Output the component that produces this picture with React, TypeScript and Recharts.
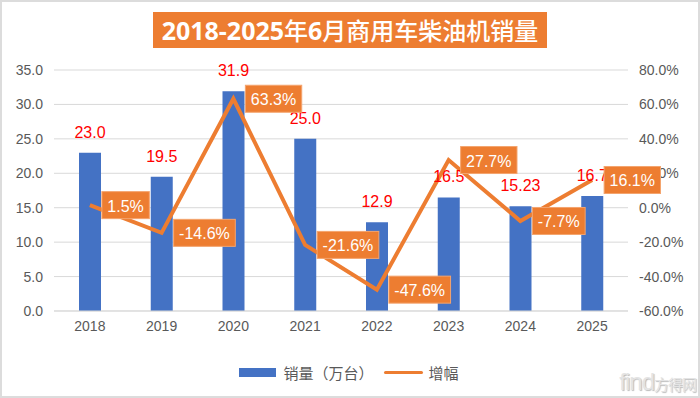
import React from 'react';
import { ComposedChart, Bar, Line, XAxis, YAxis, CartesianGrid, Legend, LabelList } from 'recharts';

const years = ['2018', '2019', '2020', '2021', '2022', '2023', '2024', '2025'];
const sales = [23.0, 19.5, 31.9, 25.0, 12.9, 16.5, 15.23, 16.7];
const salesLabels = ['23.0', '19.5', '31.9', '25.0', '12.9', '16.5', '15.23', '16.7'];
const growth = [1.5, -14.6, 63.3, -21.6, -47.6, 27.7, -7.7, 16.1];
const leftTicks = [0, 5, 10, 15, 20, 25, 30, 35];
const rightTicks = [-60, -40, -20, 0, 20, 40, 60, 80];

const data = years.map((year, i) => ({
  year,
  sales: sales[i],
  salesLabel: salesLabels[i],
  growth: growth[i],
}));

const ORANGE = '#ED7D31';
const BLUE = '#4472C4';
const GREY_TEXT = '#595959';

// rough width of a label in Liberation Sans
const textWidth = (s: string, size: number) => {
  let w = 0;
  for (const ch of s) {
    if (ch === '.') w += 0.278;
    else if (ch === '%') w += 0.889;
    else if (ch === '-') w += 0.333;
    else w += 0.556;
  }
  return w * size;
};

const SalesLabel = (props: any) => {
  const { x, y, width, value } = props;
  return (
    <text x={x + width / 2} y={y - 15} textAnchor="middle" fill="#FF0000" fontSize={16} fontFamily="Liberation Sans">
      {value}
    </text>
  );
};

const GrowthLabel = (props: any) => {
  const { x, y, value } = props;
  const txt = `${Number(value).toFixed(1)}%`;
  const w = textWidth(txt, 16) + 11;
  const left = x + 12;
  return (
    <g>
      <rect x={left} y={y - 13.5} width={w} height={27} fill={ORANGE} stroke="#F4A46E" strokeWidth={1} />
      <text x={left + w / 2} y={y + 1} textAnchor="middle" dominantBaseline="central" fill="#fff" fontSize={16} fontFamily="Liberation Sans">
        {txt}
      </text>
    </g>
  );
};

const renderLegend = (props: any) => {
  const items = [...(props.payload || [])].sort((a: any) => (a.type === 'line' ? 1 : -1));
  return (
    <div style={{ display: 'flex', justifyContent: 'center', alignItems: 'center', height: 24, paddingLeft: 8 }}>
      {items.map((entry: any) => (
        <div key={entry.value} style={{ display: 'flex', alignItems: 'center', marginRight: 10 }}>
          {entry.type === 'line' ? (
            <div style={{ width: 39, height: 3, background: ORANGE, borderRadius: 2, marginRight: 6 }} />
          ) : (
            <div style={{ width: 37, height: 9, background: BLUE, marginRight: 7 }} />
          )}
          <span style={{ fontSize: 15, color: GREY_TEXT, fontFamily: 'Noto Sans CJK SC' }}>{entry.value}</span>
        </div>
      ))}
    </div>
  );
};

export default function App() {
  return (
    <div style={{ position: 'relative', width: 700, height: 398, background: '#fff', overflow: 'hidden' }}>
      <style>{'body{margin:0}'}</style>
      <div
        style={{
          position: 'absolute',
          left: 153,
          top: 12,
          width: 394,
          height: 36,
          background: ORANGE,
          color: '#fff',
          fontFamily: 'Noto Sans CJK SC',
          fontSize: 24,
          lineHeight: '36px',
          textAlign: 'center',
          whiteSpace: 'nowrap',
          zIndex: 2,
        }}
      >
        <span style={{ fontFamily: 'Open Sans', fontWeight: 'bold', fontSize: 25 }}>2018-2025</span>
        <span style={{ fontWeight: 500 }}>年</span>
        <span style={{ fontFamily: 'Open Sans', fontWeight: 'bold', fontSize: 25 }}>6</span>
        <span style={{ fontWeight: 500 }}>月商用车柴油机销量</span>
      </div>
      <ComposedChart width={700} height={398} data={data} margin={{ top: 70, right: 0, bottom: 14, left: 0 }}>
        <CartesianGrid yAxisId="left" vertical={false} stroke="#D9D9D9" />
        <XAxis
          dataKey="year"
          height={49}
          tickLine={false}
          tickSize={0}
          tickMargin={10}
          axisLine={{ stroke: '#D9D9D9' }}
          tick={{ fill: GREY_TEXT, fontSize: 14, fontFamily: 'Liberation Sans' }}
        />
        <YAxis
          yAxisId="left"
          width={54}
          domain={[0, 35]}
          ticks={leftTicks}
          axisLine={false}
          tickLine={false}
          tickSize={0}
          tickMargin={11}
          tickFormatter={(v: number) => v.toFixed(1)}
          tick={{ fill: GREY_TEXT, fontSize: 14, fontFamily: 'Liberation Sans' }}
        />
        <YAxis
          yAxisId="right"
          orientation="right"
          width={72}
          domain={[-60, 80]}
          ticks={rightTicks}
          axisLine={false}
          tickLine={false}
          tickSize={0}
          tickMargin={11}
          tickFormatter={(v: number) => `${v.toFixed(1)}%`}
          tick={{ fill: GREY_TEXT, fontSize: 14, fontFamily: 'Liberation Sans', textAnchor: 'start' }}
        />
        <Legend verticalAlign="bottom" content={renderLegend} />
        <Bar yAxisId="left" dataKey="sales" name="销量（万台）" fill={BLUE} barSize={22} legendType="rect" isAnimationActive={false}>
          <LabelList dataKey="salesLabel" content={SalesLabel} />
        </Bar>
        <Line
          yAxisId="right"
          type="linear"
          dataKey="growth"
          name="增幅"
          stroke={ORANGE}
          strokeWidth={4}
          dot={false}
          legendType="line"
          isAnimationActive={false}
        >
          <LabelList dataKey="growth" content={GrowthLabel} />
        </Line>
      </ComposedChart>
      <div
        style={{
          position: 'absolute',
          right: 4,
          bottom: 2,
          fontFamily: 'Liberation Sans',
          fontSize: 24,
          color: '#E4E4E4',
          textShadow: '1px 1px 1px #bbb',
          letterSpacing: -1,
        }}
      >
        find<span style={{ fontFamily: 'Noto Sans CJK SC', fontSize: 15 }}>方得网</span>
      </div>
      <div
        style={{
          position: 'absolute',
          inset: 0,
          border: '2px solid #DCDCDC',
          pointerEvents: 'none',
        }}
      />
    </div>
  );
}
